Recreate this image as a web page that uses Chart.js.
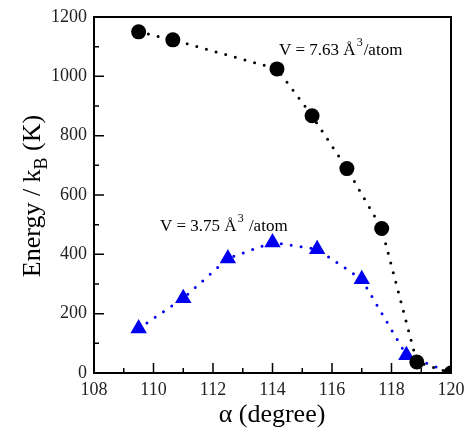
<!DOCTYPE html>
<html>
<head>
<meta charset="utf-8">
<script src="https://cdn.jsdelivr.net/npm/chart.js@4/dist/chart.umd.min.js"></script>
<style>
  html, body { margin: 0; padding: 0; background: #fff; }
  #wrap { width: 466px; height: 433px; }
</style>
</head>
<body>
<div id="wrap"><canvas id="energyChart" width="466" height="433"></canvas></div>
<script>
// data
var alphaBig = [109.5, 110.65, 114.15, 115.33, 116.5, 117.67, 118.85, 120];
var energyBig = [1150, 1123, 1025, 867, 689, 487, 37, 0];
var alphaSmall = [109.5, 111, 112.5, 114, 115.5, 117, 118.5, 120];
var energySmall = [150, 252, 386, 440, 417, 316, 60, 0];
var xTicks = [108, 110, 112, 114, 116, 118, 120];
var yTicks = [0, 200, 400, 600, 800, 1000, 1200];

var serif = '"Liberation Serif", "DejaVu Serif", serif';

function pts(xs, ys) {
    return xs.map(function (x, i) { return { x: x, y: ys[i] }; });
}

// frame + inward ticks + axis titles + annotations
var decorPlugin = {
    id: 'decor',
    afterDraw: function (chart) {
        var c = chart.ctx, a = chart.chartArea;
        var xs = chart.scales.x, ys = chart.scales.y;
        c.save();
        c.strokeStyle = '#000';
        c.lineWidth = 2;
        c.strokeRect(a.left, a.top, a.right - a.left, a.bottom - a.top);

        c.lineWidth = 1.5;
        c.beginPath();
        for (var v = 108; v <= 120; v += 1) {
            var px = xs.getPixelForValue(v);
            var len = (v % 2 === 0) ? 10 : 5;
            c.moveTo(px, a.bottom); c.lineTo(px, a.bottom - len);
        }
        for (var w = 0; w <= 1200; w += 100) {
            var py = ys.getPixelForValue(w);
            var l2 = (w % 200 === 0) ? 10 : 5;
            c.moveTo(a.left, py); c.lineTo(a.left + l2, py);
        }
        c.stroke();

        c.fillStyle = '#000';
        // x title
        c.font = '26px ' + serif;
        c.textAlign = 'center';
        c.textBaseline = 'alphabetic';
        c.fillText('\u03b1 (degree)', 272, 422);

        // y title with subscript
        c.save();
        c.translate(40, 196);
        c.rotate(-Math.PI / 2);
        c.textAlign = 'left';
        var p1 = 'Energy / k', p2 = 'B', p3 = ' (K)';
        c.font = '26px ' + serif;
        var w1 = c.measureText(p1).width;
        var w3 = c.measureText(p3).width;
        c.font = '18px ' + serif;
        var w2 = c.measureText(p2).width;
        var start = -(w1 + w2 + w3) / 2;
        c.font = '26px ' + serif;
        c.fillText(p1, start, 0);
        c.font = '18px ' + serif;
        c.fillText(p2, start + w1, 7);
        c.font = '26px ' + serif;
        c.fillText(p3, start + w1 + w2, 0);
        c.restore();

        // annotations
        function label(txt1, sup, txt2, x, y) {
            c.textAlign = 'left';
            c.font = '17px ' + serif;
            c.fillText(txt1, x, y);
            var wa = c.measureText(txt1).width;
            c.font = '12px ' + serif;
            c.fillText(sup, x + wa + 1, y - 9);
            var wb = c.measureText(sup).width;
            c.font = '17px ' + serif;
            c.fillText(txt2, x + wa + wb + 2, y);
        }
        label('V = 7.63 \u00c5', '3', '/atom', 279, 55);
        label('V = 3.75 \u00c5', '3', ' /atom', 160, 231);
        c.restore();
    }
};

var ctx = document.getElementById('energyChart').getContext('2d');
var energyChart = new Chart(ctx, {
    type: 'scatter',
    data: {
        datasets: [{
            label: 'V = 7.63',
            data: pts(alphaBig, energyBig),
            showLine: true,
            borderColor: '#000',
            backgroundColor: '#000',
            borderWidth: 3,
            borderDash: [0, 10],
            borderCapStyle: 'round',
            pointStyle: 'circle',
            pointRadius: 7.5,
            pointBorderWidth: 0
        }, {
            label: 'V = 3.75',
            data: pts(alphaSmall, energySmall),
            showLine: true,
            borderColor: '#0000ee',
            backgroundColor: '#0000ee',
            borderWidth: 3,
            borderDash: [0, 10],
            borderCapStyle: 'round',
            pointStyle: 'triangle',
            pointRadius: 9.5,
            pointBorderWidth: 0
        }]
    },
    options: {
        responsive: false,
        animation: false,
        events: [],
        layout: { padding: { left: 0, top: 17, right: 15, bottom: 0 } },
        plugins: {
            legend: { display: false },
            tooltip: { enabled: false }
        },
        scales: {
            x: {
                type: 'linear',
                min: 108,
                max: 120,
                afterFit: function (s) { s.height = 60; s.paddingLeft = 0; s.paddingRight = 0; },
                afterBuildTicks: function (s) { s.ticks = xTicks.map(function (v) { return { value: v }; }); },
                grid: { display: false, drawTicks: false },
                border: { display: false },
                ticks: {
                    color: '#222',
                    padding: 6,
                    autoSkip: false,
                    maxRotation: 0,
                    font: { family: serif, size: 18 },
                    callback: function (v) { return String(v); }
                }
            },
            y: {
                type: 'linear',
                min: 0,
                max: 1200,
                afterFit: function (s) { s.width = 94; s.paddingTop = 0; s.paddingBottom = 0; },
                afterBuildTicks: function (s) { s.ticks = yTicks.map(function (v) { return { value: v }; }); },
                grid: { display: false, drawTicks: false },
                border: { display: false },
                ticks: {
                    color: '#222',
                    padding: 7,
                    autoSkip: false,
                    font: { family: serif, size: 18 },
                    callback: function (v) { return String(v); }
                }
            }
        }
    },
    plugins: [decorPlugin]
});
</script>
</body>
</html>
